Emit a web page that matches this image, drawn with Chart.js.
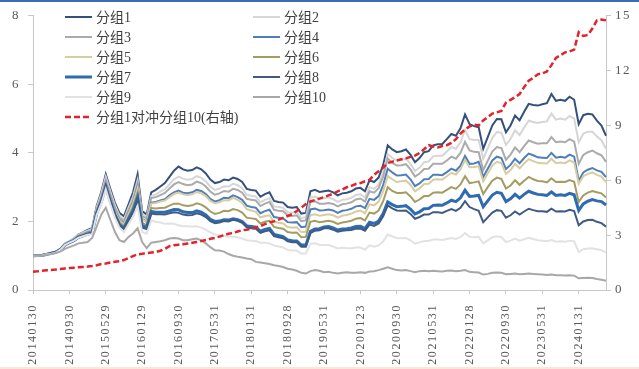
<!DOCTYPE html>
<html>
<head>
<meta charset="utf-8">
<script src="https://cdn.jsdelivr.net/npm/chart.js@4.4.1/dist/chart.umd.min.js"></script>
<style>
  html, body { margin: 0; padding: 0; background: #fff; }
  #wrap { width: 639px; height: 369px; }
</style>
</head>
<body>
<div id="wrap"><canvas id="chart" width="639" height="369"></canvas></div>
<script>
// x-axis labels shown every 8 months
const tickLabels = ['20140130','20140930','20150529','20160129','20160930','20170531','20180131','20180928',
  '20190531','20200123','20200930','20210531','20220128','20220930','20230531','20240131'];

// net values, monthly (left axis)
const group1 = [1.00,1.01,1.02,1.05,1.08,1.12,1.20,1.35,1.42,
  1.50,1.62,1.68,1.75,1.80,2.45,2.85,3.38, 2.95,2.55,2.25,2.15,2.50,2.85,3.38, 2.30,2.20,
  2.85,2.92,3.02,3.12,3.30,3.48,3.60, 3.52,3.48,3.50,3.58,3.52,3.40,3.22,3.12,3.15,3.22,3.20,3.28,
  3.24,3.15,2.95,2.92,2.90,2.72,2.80,2.85, 2.60,2.57,2.55,2.42,2.40,2.42,2.23,2.25, 2.88,2.92,2.86,2.88,
  2.90,2.85,2.76,2.82,2.84,2.88,2.96,2.98,2.88,3.20,3.15,3.28,3.65,4.22,
  4.10,4.02,4.05,4.10,3.95,3.73,3.85,4.02,4.05,4.22,4.25,4.26,4.40,4.55,4.50,4.72,5.12,4.84,
  4.78,4.75,4.12, 4.46,4.80,4.99,4.98,4.60,4.80,5.09,4.95,5.20,5.43,5.40,5.38,5.42,5.45,5.72,
  5.52,5.55,5.52,5.64,5.55,4.84, 5.10,5.14,5.12,4.94,4.80,4.50];
const group2 = [1.00,1.01,1.02,1.05,1.08,1.12,1.20,1.35,1.42,
  1.50,1.61,1.67,1.73,1.78,2.41,2.80,3.31, 2.88,2.48,2.18,2.07,2.40,2.72,3.21, 2.21,2.13,
  2.74,2.79,2.87,2.94,3.08,3.23,3.31, 3.25,3.22,3.24,3.32,3.27,3.17,3.01,2.92,2.96,3.03,3.02,3.10,
  3.06,2.97,2.78,2.75,2.73,2.56,2.63,2.68, 2.44,2.42,2.40,2.27,2.26,2.27,2.10,2.12, 2.70,2.73,2.67,2.68,
  2.70,2.65,2.57,2.63,2.65,2.69,2.77,2.79,2.70,3.00,2.95,3.08,3.43,3.97,
  3.85,3.77,3.79,3.83,3.68,3.47,3.57,3.73,3.75,3.90,3.92,3.92,4.04,4.17,4.12,4.31,4.67,4.40,
  4.38,4.38,3.83, 4.14,4.44,4.61,4.59,4.23,4.41,4.66,4.52,4.74,4.94,4.90,4.87,4.90,4.92,5.15,
  4.97,5.00,4.97,5.08,5.00,4.31, 4.56,4.62,4.62,4.48,4.37,4.12];
const group3 = [1.00,1.01,1.02,1.05,1.08,1.11,1.19,1.34,1.41,
  1.48,1.59,1.64,1.70,1.74,2.35,2.72,3.21, 2.79,2.40,2.11,2.01,2.32,2.63,3.11, 2.15,2.09,
  2.68,2.71,2.77,2.83,2.96,3.08,3.15, 3.09,3.06,3.08,3.16,3.12,3.02,2.87,2.78,2.82,2.89,2.87,2.95,
  2.92,2.84,2.66,2.63,2.61,2.45,2.52,2.57, 2.34,2.31,2.30,2.18,2.16,2.18,2.01,2.03, 2.57,2.59,2.52,2.52,
  2.54,2.51,2.44,2.50,2.52,2.56,2.64,2.67,2.58,2.88,2.84,2.97,3.31,3.84,
  3.71,3.63,3.64,3.67,3.52,3.31,3.40,3.53,3.54,3.68,3.68,3.68,3.78,3.89,3.83,4.00,4.32,4.07,
  4.03,4.02,3.50, 3.77,4.04,4.17,4.14,3.80,3.95,4.16,4.02,4.20,4.36,4.31,4.27,4.28,4.28,4.46,
  4.31,4.33,4.31,4.40,4.33,3.68, 3.94,4.02,4.07,3.99,3.93,3.74];
const group4 = [1.00,1.01,1.02,1.04,1.07,1.11,1.19,1.33,1.40,
  1.47,1.57,1.61,1.67,1.70,2.29,2.64,3.11, 2.70,2.32,2.04,1.94,2.25,2.55,3.01, 2.07,2.00,
  2.55,2.57,2.61,2.65,2.76,2.85,2.90, 2.84,2.82,2.85,2.92,2.89,2.80,2.66,2.58,2.62,2.69,2.68,2.76,
  2.71,2.63,2.46,2.42,2.40,2.24,2.30,2.34, 2.13,2.11,2.09,1.98,1.97,1.98,1.83,1.85, 2.35,2.38,2.32,2.33,
  2.35,2.32,2.25,2.31,2.33,2.37,2.44,2.46,2.39,2.66,2.63,2.74,3.06,3.54,
  3.43,3.34,3.35,3.37,3.23,3.03,3.11,3.23,3.24,3.36,3.36,3.35,3.44,3.54,3.48,3.63,3.91,3.68,
  3.69,3.74,3.30, 3.54,3.78,3.89,3.85,3.53,3.65,3.83,3.70,3.85,3.98,3.93,3.87,3.86,3.85,4.00,
  3.86,3.89,3.86,3.95,3.89,3.19, 3.43,3.51,3.56,3.49,3.45,3.29];
const group5 = [1.00,1.01,1.02,1.04,1.07,1.11,1.18,1.33,1.39,
  1.46,1.56,1.60,1.65,1.68,2.27,2.62,3.08, 2.67,2.30,2.02,1.92,2.22,2.52,2.97, 2.05,1.98,
  2.52,2.54,2.58,2.61,2.71,2.80,2.84, 2.79,2.77,2.79,2.86,2.82,2.74,2.60,2.53,2.56,2.62,2.61,2.69,
  2.63,2.54,2.36,2.32,2.28,2.12,2.16,2.18, 1.99,1.96,1.94,1.84,1.82,1.83,1.69,1.70, 2.18,2.21,2.17,2.19,
  2.21,2.18,2.11,2.17,2.19,2.23,2.29,2.32,2.24,2.50,2.47,2.58,2.88,3.33,
  3.23,3.15,3.17,3.19,3.07,2.88,2.97,3.09,3.10,3.22,3.23,3.22,3.32,3.42,3.37,3.52,3.80,3.58,
  3.59,3.61,3.17, 3.40,3.63,3.74,3.70,3.39,3.50,3.68,3.55,3.69,3.82,3.76,3.71,3.70,3.69,3.83,
  3.70,3.72,3.70,3.78,3.72,3.10, 3.32,3.39,3.43,3.36,3.31,3.15];
const group6 = [1.00,1.01,1.02,1.04,1.07,1.10,1.18,1.32,1.39,
  1.46,1.56,1.60,1.65,1.67,2.25,2.59,3.04, 2.63,2.25,1.97,1.86,2.14,2.42,2.84, 1.96,1.89,
  2.39,2.38,2.39,2.40,2.46,2.52,2.52, 2.47,2.45,2.47,2.53,2.49,2.41,2.29,2.22,2.25,2.31,2.30,2.36,
  2.33,2.26,2.11,2.09,2.07,1.94,1.99,2.02, 1.84,1.81,1.79,1.69,1.67,1.68,1.54,1.55, 1.99,2.02,1.98,2.00,
  2.02,1.99,1.93,1.97,1.99,2.02,2.08,2.10,2.03,2.26,2.23,2.32,2.59,3.00,
  2.89,2.83,2.83,2.85,2.73,2.57,2.64,2.74,2.74,2.84,2.85,2.84,2.92,3.00,2.95,3.08,3.32,3.12,
  3.14,3.17,2.80, 3.00,3.19,3.28,3.24,2.96,3.05,3.20,3.07,3.19,3.30,3.23,3.18,3.17,3.14,3.26,
  3.15,3.16,3.15,3.21,3.16,2.57, 2.76,2.84,2.89,2.85,2.82,2.70];
const group7 = [1.00,1.01,1.01,1.04,1.07,1.10,1.17,1.31,1.38,
  1.44,1.54,1.58,1.63,1.66,2.23,2.57,3.01, 2.59,2.20,1.91,1.80,2.07,2.32,2.70, 1.87,1.83,
  2.29,2.27,2.27,2.27,2.31,2.35,2.34, 2.28,2.26,2.26,2.31,2.27,2.19,2.06,2.00,2.01,2.05,2.04,2.08,
  2.05,2.00,1.87,1.85,1.83,1.72,1.77,1.80, 1.62,1.59,1.56,1.46,1.44,1.43,1.31,1.31, 1.71,1.78,1.79,1.84,
  1.85,1.81,1.75,1.78,1.79,1.81,1.85,1.86,1.79,1.98,1.94,2.01,2.23,2.57,
  2.49,2.43,2.44,2.46,2.36,2.22,2.28,2.37,2.38,2.47,2.48,2.47,2.54,2.62,2.58,2.69,2.91,2.73,
  2.74,2.76,2.43, 2.60,2.77,2.85,2.82,2.58,2.66,2.79,2.68,2.79,2.88,2.83,2.79,2.78,2.76,2.86,
  2.76,2.78,2.76,2.82,2.78,2.32, 2.51,2.59,2.64,2.60,2.58,2.48];
const group8 = [1.00,1.00,1.01,1.04,1.06,1.10,1.17,1.31,1.38,
  1.44,1.54,1.59,1.64,1.67,2.25,2.59,3.04, 2.60,2.20,1.90,1.78,2.03,2.26,2.62, 1.82,1.78,
  2.23,2.21,2.21,2.20,2.24,2.27,2.25, 2.20,2.18,2.19,2.24,2.20,2.13,2.01,1.95,1.97,2.01,2.00,2.05,
  2.02,1.96,1.83,1.80,1.79,1.67,1.71,1.74, 1.57,1.54,1.51,1.42,1.39,1.39,1.26,1.26, 1.66,1.73,1.74,1.80,
  1.80,1.76,1.70,1.73,1.74,1.75,1.79,1.79,1.73,1.91,1.87,1.94,2.15,2.47,
  2.38,2.32,2.31,2.32,2.22,2.08,2.13,2.20,2.20,2.27,2.27,2.25,2.31,2.36,2.31,2.40,2.59,2.42,
  2.36,2.31,1.98, 2.12,2.26,2.33,2.31,2.11,2.18,2.29,2.20,2.29,2.37,2.33,2.30,2.30,2.28,2.37,
  2.29,2.30,2.29,2.34,2.30,1.89, 2.00,2.04,2.05,1.99,1.95,1.85];
const group9 = [1.00,1.00,1.01,1.04,1.06,1.09,1.17,1.31,1.38,
  1.44,1.53,1.57,1.61,1.63,2.19,2.51,2.94, 2.50,2.11,1.82,1.69,1.92,2.13,2.45, 1.69,1.64,
  2.03,1.99,1.97,1.93,1.94,1.93,1.89, 1.86,1.86,1.85,1.86,1.82,1.76,1.68,1.62,1.60,1.58,1.55,1.55,
  1.54,1.50,1.45,1.44,1.43,1.38,1.38,1.36, 1.30,1.27,1.24,1.17,1.15,1.15,1.06,1.07, 1.35,1.36,1.32,1.31,
  1.31,1.27,1.21,1.23,1.22,1.22,1.24,1.24,1.18,1.30,1.26,1.30,1.42,1.62,
  1.56,1.52,1.51,1.52,1.45,1.35,1.39,1.43,1.43,1.47,1.47,1.46,1.49,1.52,1.49,1.54,1.66,1.55,
  1.54,1.55,1.36, 1.45,1.54,1.57,1.54,1.40,1.44,1.50,1.44,1.48,1.52,1.49,1.45,1.44,1.42,1.46,
  1.41,1.42,1.41,1.44,1.42,1.11, 1.19,1.21,1.22,1.19,1.16,1.10];
const group10 = [1.00,1.01,1.00,1.03,1.05,1.08,1.12,1.20,1.25,
  1.30,1.36,1.38,1.40,1.52,1.85,2.20,2.40, 2.05,1.70,1.45,1.40,1.55,1.65,1.80, 1.40,1.22,
  1.38,1.40,1.42,1.45,1.50,1.52,1.50, 1.45,1.45,1.48,1.50,1.45,1.36,1.25,1.16,1.15,1.12,1.05,1.00,
  0.97,0.95,0.92,0.90,0.82,0.80,0.78,0.76, 0.72,0.70,0.67,0.62,0.60,0.56,0.50,0.48, 0.55,0.58,0.56,0.52,
  0.53,0.50,0.48,0.50,0.52,0.50,0.50,0.52,0.50,0.54,0.55,0.58,0.62,0.66,
  0.62,0.58,0.57,0.58,0.55,0.52,0.55,0.56,0.55,0.56,0.55,0.54,0.56,0.57,0.55,0.56,0.58,0.53,
  0.52,0.51,0.45, 0.47,0.50,0.51,0.50,0.46,0.47,0.48,0.46,0.47,0.48,0.47,0.46,0.45,0.44,0.45,
  0.43,0.43,0.42,0.43,0.42,0.34, 0.35,0.36,0.35,0.32,0.30,0.27];
// long group 1 / short group 10 (right axis)
const hedge = [1.00,1.02,1.05,1.08,1.10,1.12,1.15,1.18,1.20,
  1.22,1.24,1.26,1.28,1.31,1.35,1.42,1.45, 1.50,1.55,1.58,1.64,1.75,1.85,1.95, 1.98,2.02,
  2.05,2.08,2.15,2.25,2.40,2.45,2.48, 2.50,2.54,2.58,2.62,2.68,2.73,2.80,2.85,2.92,3.00,3.08,3.12,
  3.20,3.27,3.30,3.36,3.42,3.50,3.60,3.70, 3.76,3.85,3.95,4.05,4.15,4.32,4.50,4.70, 4.85,4.92,5.00,5.08,
  5.18,5.27,5.40,5.50,5.62,5.70,5.80,5.85,5.95,6.02,6.30,6.50,6.70,6.95,
  7.02,7.08,7.15,7.20,7.28,7.35,7.50,7.70,7.92,7.85,7.80,7.88,7.92,8.05,8.25,8.55,8.78,8.95,
  9.05,9.00,9.28, 9.45,9.65,9.72,9.80,10.25,10.40,10.55,10.72,11.10,11.45,11.60,11.80,11.85,11.95,12.30,
  12.70,12.85,13.00,13.05,13.15,14.10, 13.90,13.95,14.30,14.75,14.80,14.75];

const months = [];
for (let k = 0; k < group1.length; k++) {
  months.push((2014 + Math.floor(k / 12)) + '-' + String(k % 12 + 1).padStart(2, '0'));
}

const groups = [group1, group2, group3, group4, group5, group6, group7, group8, group9, group10];
const colors = ['#34507c', '#d6d6d6', '#ababab', '#4f7fbb', '#d8cda0', '#a59c62', '#2f6bb0', '#3f5b84', '#e2e2e2', '#a8a8a8'];
const widths = [2, 2, 2, 2, 2, 2, 3, 2, 2, 2];

const datasets = groups.map((g, i) => ({
  label: '分组' + (i + 1),
  data: g,
  yAxisID: 'y',
  borderColor: colors[i],
  borderWidth: widths[i],
  pointRadius: 0,
  tension: 0,
  order: 11 - i
}));
datasets.push({
  label: '分组1对冲分组10(右轴)',
  data: hedge,
  yAxisID: 'y2',
  borderColor: '#e3232a',
  borderWidth: 2.5,
  borderDash: [6, 3],
  pointRadius: 0,
  tension: 0,
  order: 0
});

const serif = '"Liberation Serif", "Times New Roman", serif';
const axisColor = '#c8c8c8';

// wider letter spacing for the axis labels, reset before the lines
const spacing = {
  id: 'spacing',
  beforeDraw(chart) { chart.ctx.letterSpacing = '1.6px'; },
  beforeDatasetsDraw(chart) { chart.ctx.letterSpacing = '0px'; }
};

// two-column legend in the upper left, plus the frame lines
const legendBox = {
  id: 'legendBox',
  afterDraw(chart) {
    const ctx = chart.ctx;
    ctx.save();
    ctx.letterSpacing = '0px';
    ctx.fillStyle = '#3b6cb4';
    ctx.fillRect(0, 0, 639, 2);
    ctx.fillStyle = '#fbe6d8';
    ctx.fillRect(0, 367, 639, 2);
    ctx.font = '14px "Liberation Serif", "Noto Sans CJK SC", serif';
    ctx.textBaseline = 'middle';
    chart.data.datasets.forEach((ds, i) => {
      const col = i < 10 ? i % 2 : 0;
      const row = i < 10 ? Math.floor(i / 2) : 5;
      const x = col ? 253 : 65;
      const y = 17 + row * 20;
      ctx.strokeStyle = ds.borderColor;
      ctx.lineWidth = ds.borderWidth;
      ctx.setLineDash(ds.borderDash || []);
      ctx.beginPath();
      ctx.moveTo(x, y);
      ctx.lineTo(x + 27, y);
      ctx.stroke();
      ctx.setLineDash([]);
      ctx.fillStyle = '#404040';
      ctx.fillText(ds.label, x + 31, y + 1);
    });
    ctx.restore();
  }
};

new Chart(document.getElementById('chart'), {
  type: 'line',
  data: { labels: months, datasets },
  options: {
    responsive: false,
    animation: false,
    devicePixelRatio: 1,
    layout: { padding: { top: 15, left: 0, right: 0, bottom: 0 } },
    plugins: { legend: { display: false }, tooltip: { enabled: false } },
    scales: {
      x: {
        type: 'category',
        offset: false,
        grid: { drawOnChartArea: false, tickLength: 4, color: axisColor },
        border: { color: axisColor },
        ticks: {
          autoSkip: false, minRotation: 90, maxRotation: 90, padding: 10,
          color: '#595959', font: { family: serif, size: 12 },
          callback: (v) => tickLabels[v / 8]
        },
        afterBuildTicks: (axis) => { axis.ticks = axis.ticks.filter(t => t.value % 8 === 0); },
        afterFit: (axis) => { axis.height = 79; }
      },
      y: {
        position: 'left', min: 0, max: 8,
        grid: { drawOnChartArea: false, tickLength: 5, color: axisColor },
        border: { color: axisColor },
        ticks: { stepSize: 2, padding: 8, color: '#595959', font: { family: serif, size: 13 } },
        afterFit: (axis) => { axis.width = 33; }
      },
      y2: {
        position: 'right', min: 0, max: 15,
        grid: { drawOnChartArea: false, tickLength: 5, color: axisColor },
        border: { color: axisColor },
        ticks: { stepSize: 3, padding: 4, color: '#595959', font: { family: serif, size: 13 } },
        afterFit: (axis) => { axis.width = 33; }
      }
    }
  },
  plugins: [spacing, legendBox]
});
</script>
</body>
</html>
